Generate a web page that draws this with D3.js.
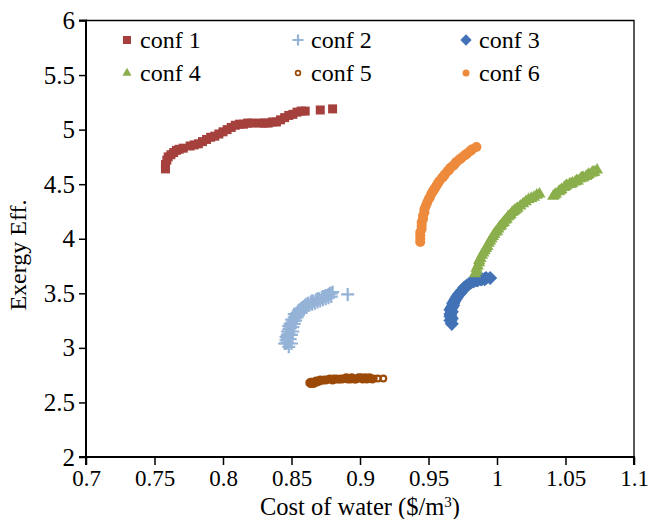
<!DOCTYPE html>
<html>
<head>
<meta charset="utf-8">
<script src="https://cdn.jsdelivr.net/npm/d3@7"></script>
<style>
  body { margin: 0; background: #fff; }
  text { font-family: "Liberation Serif", "Times New Roman", serif; fill: #000; }
</style>
</head>
<body>
<div id="chart"></div>
<script>
// values
var xTicks = [0.7, 0.75, 0.8, 0.85, 0.9, 0.95, 1, 1.05, 1.1];
var yTicks = [2, 2.5, 3, 3.5, 4, 4.5, 5, 5.5, 6];

var conf1X = [0.758, 0.758, 0.759, 0.760, 0.762, 0.764, 0.766, 0.768, 0.771,
              0.776, 0.779, 0.782, 0.785, 0.788, 0.791, 0.794, 0.797, 0.800, 0.803, 0.806, 0.809, 0.812, 0.815, 0.818, 0.821,
              0.827, 0.830, 0.833, 0.836, 0.839, 0.842, 0.845, 0.848, 0.851, 0.854, 0.857, 0.860,
              0.871, 0.880];
var conf1Y = [4.64, 4.68, 4.72, 4.75, 4.77, 4.79, 4.81, 4.82, 4.83,
              4.85, 4.86, 4.87, 4.89, 4.91, 4.93, 4.94, 4.96, 4.98, 5.00, 5.02, 5.04, 5.05, 5.05, 5.06, 5.06,
              5.06, 5.06, 5.06, 5.07, 5.07, 5.09, 5.11, 5.13, 5.14, 5.16, 5.17, 5.17,
              5.18, 5.19];

var conf2X = [0.848, 0.845, 0.846, 0.847, 0.846, 0.847, 0.846, 0.847, 0.848, 0.847, 0.848, 0.849, 0.848, 0.849,
              0.850, 0.851, 0.850, 0.852, 0.853, 0.852, 0.854, 0.855, 0.856, 0.857, 0.858, 0.859, 0.860, 0.861,
              0.862, 0.864, 0.865, 0.866, 0.868, 0.869, 0.870, 0.872, 0.873, 0.874, 0.875, 0.876, 0.877, 0.878,
              0.879, 0.880, 0.891,
              0.850, 0.849, 0.850, 0.851, 0.851, 0.852, 0.853, 0.854, 0.855, 0.856, 0.858, 0.859, 0.861, 0.863,
              0.865, 0.867, 0.869, 0.871, 0.873, 0.875, 0.877, 0.879];
var conf2Y = [3.01, 3.04, 3.04, 3.05, 3.07, 3.08, 3.10, 3.12, 3.13, 3.15, 3.17, 3.18, 3.20, 3.22,
              3.23, 3.25, 3.26, 3.28, 3.29, 3.31, 3.32, 3.34, 3.35, 3.36, 3.37, 3.38, 3.39, 3.40,
              3.41, 3.42, 3.43, 3.43, 3.44, 3.45, 3.45, 3.46, 3.47, 3.47, 3.48, 3.48, 3.49, 3.50,
              3.50, 3.51, 3.49,
              3.04, 3.08, 3.12, 3.15, 3.19, 3.22, 3.25, 3.28, 3.30, 3.32, 3.34, 3.36, 3.37, 3.39,
              3.40, 3.41, 3.42, 3.43, 3.44, 3.45, 3.46, 3.47];

var conf3X = [0.967, 0.966, 0.967, 0.966, 0.966, 0.967, 0.966, 0.967, 0.968, 0.968, 0.969, 0.970, 0.971, 0.972,
              0.973, 0.974, 0.975, 0.976, 0.977, 0.978, 0.980, 0.981, 0.983, 0.985, 0.986, 0.988, 0.989,
              0.991, 0.992, 0.995];
var conf3Y = [3.22, 3.25, 3.27, 3.29, 3.31, 3.33, 3.35, 3.37, 3.39, 3.41, 3.43, 3.45, 3.47, 3.49,
              3.50, 3.52, 3.53, 3.55, 3.56, 3.57, 3.59, 3.60, 3.61, 3.62, 3.62, 3.63, 3.63,
              3.63, 3.64, 3.64];

var conf4X = [0.984, 0.985, 0.985, 0.986, 0.987, 0.987, 0.988, 0.989, 0.990, 0.991, 0.992, 0.993, 0.994, 0.995,
              0.996, 0.997, 0.998, 0.999, 1.000, 1.001, 1.002, 1.003, 1.004, 1.005, 1.006, 1.007, 1.008,
              1.009, 1.010, 1.011, 1.012, 1.013, 1.014, 1.015, 1.017, 1.019, 1.021, 1.023, 1.025, 1.027,
              1.029, 1.031,
              1.041, 1.042, 1.043, 1.045, 1.046, 1.047, 1.049, 1.050, 1.051, 1.053, 1.054, 1.055, 1.057,
              1.058, 1.059, 1.061, 1.062, 1.063, 1.065, 1.066, 1.067, 1.069, 1.070, 1.071, 1.073];
var conf4Y = [3.68, 3.70, 3.73, 3.75, 3.78, 3.80, 3.82, 3.85, 3.87, 3.89, 3.91, 3.93, 3.96, 3.98,
              4.00, 4.02, 4.04, 4.06, 4.07, 4.09, 4.11, 4.12, 4.14, 4.15, 4.17, 4.18, 4.20,
              4.21, 4.22, 4.24, 4.25, 4.26, 4.27, 4.28, 4.30, 4.32, 4.34, 4.36, 4.37, 4.38,
              4.40, 4.41,
              4.39, 4.40, 4.41, 4.43, 4.44, 4.45, 4.47, 4.48, 4.49, 4.50, 4.50, 4.51, 4.52,
              4.53, 4.53, 4.55, 4.56, 4.56, 4.57, 4.58, 4.59, 4.60, 4.61, 4.61, 4.63];

var conf5X = [0.863, 0.864, 0.865, 0.866, 0.867, 0.868, 0.869, 0.870, 0.871, 0.872, 0.874, 0.875, 0.876,
              0.878, 0.879, 0.880, 0.882, 0.883, 0.884, 0.886, 0.887, 0.888, 0.890, 0.891, 0.892, 0.894,
              0.895, 0.896, 0.898, 0.899, 0.900, 0.902, 0.903, 0.904, 0.906, 0.908, 0.910, 0.913, 0.917,
              0.864, 0.866, 0.868, 0.870, 0.873, 0.877, 0.881, 0.885, 0.889, 0.893, 0.897, 0.901, 0.905,
              0.907, 0.909];
var conf5Y = [2.68, 2.67, 2.69, 2.68, 2.69, 2.70, 2.69, 2.70, 2.71, 2.70, 2.71, 2.70, 2.71,
              2.72, 2.71, 2.70, 2.71, 2.72, 2.71, 2.72, 2.71, 2.72, 2.73, 2.71, 2.72, 2.73,
              2.72, 2.71, 2.72, 2.73, 2.72, 2.71, 2.72, 2.73, 2.72, 2.72, 2.72, 2.72, 2.72,
              2.69, 2.67, 2.68, 2.69, 2.70, 2.71, 2.72, 2.71, 2.72, 2.71, 2.71, 2.73, 2.71,
              2.73, 2.71];

var conf6X = [0.944, 0.944, 0.944, 0.944, 0.945, 0.945, 0.945, 0.946, 0.946, 0.947, 0.947, 0.948, 0.949, 0.950,
              0.951, 0.952, 0.953, 0.954, 0.955, 0.956, 0.957, 0.958, 0.960, 0.961, 0.962, 0.964, 0.965,
              0.966, 0.968, 0.969, 0.970, 0.972, 0.973, 0.974, 0.976, 0.977, 0.978, 0.980, 0.981, 0.982, 0.985];
var conf6Y = [3.97, 4.00, 4.03, 4.06, 4.09, 4.12, 4.15, 4.18, 4.21, 4.24, 4.27, 4.30, 4.33, 4.36,
              4.38, 4.41, 4.43, 4.45, 4.47, 4.49, 4.51, 4.53, 4.56, 4.57, 4.59, 4.62, 4.63,
              4.65, 4.67, 4.68, 4.70, 4.72, 4.73, 4.74, 4.76, 4.77, 4.78, 4.80, 4.81, 4.82, 4.84];

var WIDTH = 651, HEIGHT = 519;
var margin = { left: 86, right: 17, top: 20.5, bottom: 62 };
var width = WIDTH - margin.left - margin.right;
var height = HEIGHT - margin.top - margin.bottom;
var FONT = "'Liberation Serif', 'Times New Roman', serif";

function zip(xs, ys) {
    return xs.map(function(x, i) { return { x: x, y: ys[i] }; });
}

// marker painters
var square = d3.symbol().type(d3.symbolSquare);
var tri = d3.symbol().type(d3.symbolTriangle);
function plusPath(s) {
    var h = s / 2;
    return "M" + (-h) + ",0H" + h + "M0," + (-h) + "V" + h;
}

var series = [
    { name: "conf 1", data: zip(conf1X, conf1Y), color: "#A5403D", kind: "square", size: 9, lsize: 8 },
    { name: "conf 2", data: zip(conf2X, conf2Y), color: "#95B3D7", kind: "plus", size: 13, lsize: 11 },
    { name: "conf 3", data: zip(conf3X, conf3Y), color: "#4272B5", kind: "diamond", size: 10, lsize: 8 },
    { name: "conf 4", data: zip(conf4X, conf4Y), color: "#8AAF4C", kind: "triangle", size: 12, lsize: 9 },
    { name: "conf 5", data: zip(conf5X, conf5Y), color: "#9C4A08", kind: "ring", size: 8, lsize: 6.5 },
    { name: "conf 6", data: zip(conf6X, conf6Y), color: "#EE8A3C", kind: "circle", size: 10, lsize: 7 }
];

function drawMarker(sel, s, sz, legend) {
    if (s.kind === "square") {
        sel.append("path").attr("d", square.size(sz * sz)()).attr("fill", s.color);
    } else if (s.kind === "diamond") {
        sel.append("path").attr("d", square.size(sz * sz)()).attr("transform", "rotate(45)").attr("fill", s.color);
    } else if (s.kind === "triangle") {
        sel.append("path").attr("d", tri.size(sz * sz * 0.45)()).attr("fill", s.color);
    } else if (s.kind === "plus") {
        sel.append("path").attr("d", plusPath(sz)).attr("stroke", s.color).attr("stroke-width", 2.2).attr("fill", "none");
    } else if (s.kind === "ring") {
        var sw = legend ? 1.7 : 2.2;
        sel.append("circle").attr("r", sz / 2 - sw / 2).attr("fill", "none").attr("stroke", s.color).attr("stroke-width", sw);
    } else {
        sel.append("circle").attr("r", sz / 2).attr("fill", s.color);
    }
}

var svg = d3.select("#chart").append("svg")
    .attr("width", WIDTH)
    .attr("height", HEIGHT);

var g = svg.append("g")
    .attr("transform", "translate(" + margin.left + "," + margin.top + ")");

var xScale = d3.scaleLinear().domain([0.7, 1.1]).range([0, width]);
var yScale = d3.scaleLinear().domain([2, 6]).range([height, 0]);

// frame (top and right)
g.append("path")
    .attr("d", "M0,0H" + width + "V" + height)
    .attr("fill", "none")
    .attr("stroke", "#000")
    .attr("stroke-width", 1.3);

var xAxis = d3.axisBottom(xScale).tickValues(xTicks).tickSize(8).tickPadding(5)
    .tickFormat(function(d) { return String(d); });
var yAxis = d3.axisLeft(yScale).tickValues(yTicks).tickSize(7).tickPadding(4)
    .tickFormat(function(d) { return String(d); });

var gx = g.append("g").attr("transform", "translate(0," + height + ")").call(xAxis);
var gy = g.append("g").call(yAxis);

[gx, gy].forEach(function(ax) {
    ax.attr("font-family", null).attr("font-size", null);
    ax.select(".domain").attr("stroke", "#000").attr("stroke-width", 2);
    ax.selectAll(".tick line").attr("stroke", "#000").attr("stroke-width", 1.5);
    ax.selectAll(".tick text")
        .style("font-family", FONT)
        .attr("fill", "#000");
});
gx.selectAll(".tick text").style("font-size", "23px");
gy.selectAll(".tick text").style("font-size", "25px");
gx.select(".domain").attr("d", "M0,8V0H" + width + "V8");
gy.select(".domain").attr("d", "M-7,0H0V" + height + "H-7");

// points
series.forEach(function(s) {
    var pts = g.append("g").attr("class", "series")
        .selectAll("g")
        .data(s.data)
        .enter().append("g")
        .attr("transform", function(d) { return "translate(" + xScale(d.x) + "," + yScale(d.y) + ")"; });
    pts.each(function() { drawMarker(d3.select(this), s, s.size, false); });
});

// legend
var legendCols = [127, 298, 466];
var legendRows = [40, 73];
series.forEach(function(s, i) {
    var col = i % 3, row = Math.floor(i / 3);
    var lg = svg.append("g")
        .attr("transform", "translate(" + legendCols[col] + "," + legendRows[row] + ")");
    drawMarker(lg, s, s.lsize, true);
    lg.append("text")
        .attr("x", 13)
        .attr("dy", "0.35em")
        .style("font-family", FONT)
        .style("font-size", "24px")
        .text(s.name);
});

// axis titles
var xt = svg.append("text")
    .attr("x", margin.left + width / 2)
    .attr("y", 515)
    .attr("text-anchor", "middle")
    .style("font-family", FONT)
    .style("font-size", "24.5px");
xt.append("tspan").text("Cost of water ($/m");
xt.append("tspan").attr("dy", -8).style("font-size", "15px").text("3");
xt.append("tspan").attr("dy", 8).text(")");

svg.append("text")
    .attr("transform", "translate(26,255) rotate(-90)")
    .attr("text-anchor", "middle")
    .style("font-family", FONT)
    .style("font-size", "24px")
    .text("Exergy Eff.");
</script>
</body>
</html>
